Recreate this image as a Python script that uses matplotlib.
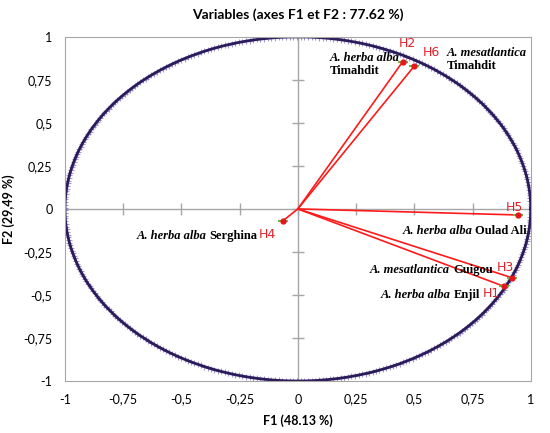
"""
Cercle des corrélations ACP - variables H1..H6 sur F1/F2.
"""

import matplotlib.pyplot as plt
import numpy as np

plt.rcParams['font.family'] = 'Lato'

# Data
var_names = ['H1', 'H2', 'H3', 'H4', 'H5', 'H6']
f1 = [0.885, 0.45, 0.92, -0.065, 0.944, 0.50]
f2 = [-0.45, 0.855, -0.40, -0.07, -0.035, 0.83]
species = ['A. herba alba', 'A. herba alba', 'A. mesatlantica',
           'A. herba alba', 'A. herba alba', 'A. mesatlantica']
sites = ['Enjil', 'Timahdit', 'Guigou', 'Serghina', 'Oulad Ali', 'Timahdit']
ticks = [-1, -0.75, -0.5, -0.25, 0, 0.25, 0.5, 0.75, 1]
tick_labels = ['-1', '-0,75', '-0,5', '-0,25', '0', '0,25', '0,5', '0,75', '1']

# Label layout (data coords)
name_pos = {
    'H1': (0.792, -0.494, 'left'),
    'H2': (0.472, 0.959, 'center'),
    'H3': (0.856, -0.343, 'left'),
    'H4': (-0.167, -0.151, 'left'),
    'H5': (0.931, 0.006, 'center'),
    'H6': (0.575, 0.907, 'center'),
}
species_pos = {
    'H1': (0.781, -0.52, 'right', False),
    'H2': (0.137, 0.878, 'left', True),
    'H3': (0.837, -0.37, 'right', False),
    'H4': (-0.172, -0.172, 'right', False),
    'H5': (0.983, -0.145, 'right', False),
    'H6': (0.639, 0.907, 'left', True),
}

serif = 'Liberation Serif'
lab_size = 9

fig = plt.figure(figsize=(5.5, 4.33), dpi=100)
ax = fig.add_axes([0.118, 0.12, 0.847, 0.795])

# Correlation circle
theta = np.linspace(0, 2 * np.pi, 400)
ax.plot(np.cos(theta), np.sin(theta), color='#2b1b5a', lw=2.0, zorder=2)
ax.plot(np.cos(theta), np.sin(theta), ls='none', marker='+', ms=4,
        mew=0.8, color='#7d70b5', alpha=0.7, zorder=1)

# Center axes with ticks
ax.axhline(0, color='#a6a6a6', lw=1, zorder=0)
ax.axvline(0, color='#a6a6a6', lw=1, zorder=0)
ax.plot(ticks, [0] * len(ticks), ls='none', marker='|', ms=8,
        color='#a6a6a6', zorder=0)
ax.plot([0] * len(ticks), ticks, ls='none', marker='_', ms=8,
        color='#a6a6a6', zorder=0)

# Vectors
for name, x, y, sp, site in zip(var_names, f1, f2, species, sites):
    ax.plot([0, x], [0, y], color='#ff1a1a', lw=1.2, zorder=3)
    ax.plot(x, y, marker='_', ms=7, mew=1.5, color='#66bb44', zorder=4)
    ax.plot(x, y, marker='o', ms=3.5, color='#e8141c', zorder=5)

    nx, ny, nha = name_pos[name]
    ax.text(nx, ny, name, color='#e0212b', fontsize=9,
            family='DejaVu Sans', ha=nha, va='center', zorder=6)

    sx, sy, sha, two_lines = species_pos[name]
    if two_lines:
        ax.text(sx, sy, sp, fontsize=lab_size, family=serif, style='italic',
                weight='bold', ha=sha, va='center', zorder=6)
        ax.text(sx, sy - 0.075, site, fontsize=lab_size, family=serif,
                weight='bold', ha=sha, va='center', zorder=6)
    else:
        t_site = ax.text(sx, sy, site, fontsize=lab_size, family=serif,
                         weight='bold', ha='right', va='baseline', zorder=6)
        ax.annotate(sp + ' ', xy=(0, 0), xycoords=t_site, fontsize=lab_size,
                    family=serif, style='italic', weight='bold',
                    ha='right', va='bottom', zorder=6)

ax.set_xlim(-1, 1)
ax.set_ylim(-1, 1)
ax.set_xticks(ticks)
ax.set_xticklabels(tick_labels)
ax.set_yticks(ticks)
ax.set_yticklabels(tick_labels)
ax.tick_params(length=0, labelsize=9, pad=9)
for s in ax.spines.values():
    s.set_color('#a6a6a6')

ax.set_xlabel('F1 (48.13 %)', fontsize=9, fontweight='bold', labelpad=6)
ax.set_ylabel('F2 (29,49 %)', fontsize=9, fontweight='bold', labelpad=6)
ax.set_title('Variables (axes F1 et F2 : 77.62 %)', fontsize=10,
             fontweight='bold', pad=13)

plt.savefig('out.png', dpi=100)
plt.close()
